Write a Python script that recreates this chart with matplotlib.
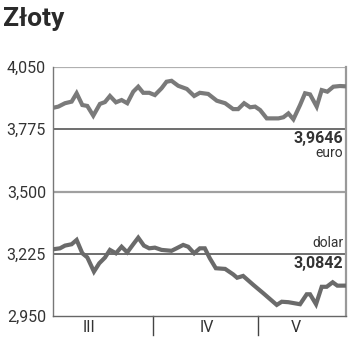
import matplotlib
matplotlib.use("Agg")
import matplotlib.pyplot as plt

plt.rcParams['font.family'] = ['Roboto', 'DejaVu Sans']

# x = days since 1 March
euro_x = [0.1, 1.6, 3.6, 5.6, 7.1, 8.8, 10.3, 12.1, 14.1, 15.6, 17.1, 18.9, 20.6, 22.3,
          24.1, 25.6, 27.1, 28.9, 30.6, 32.6, 34.1, 35.6, 37.6, 40.2, 42.4, 44.1, 46.6,
          49.2, 51.7, 54.1, 55.6, 57.4, 59.2, 60.7, 62.2, 64.2, 67.7, 69.2, 70.7, 72.2,
          74.2, 75.7, 77.2, 79.2, 80.7, 82.4, 84.2, 86.2, 88.0]
euro_v = [3.870, 3.875, 3.890, 3.897, 3.934, 3.882, 3.878, 3.835, 3.887, 3.895, 3.922,
          3.894, 3.904, 3.890, 3.941, 3.963, 3.936, 3.936, 3.926, 3.956, 3.985, 3.989,
          3.967, 3.953, 3.922, 3.936, 3.931, 3.901, 3.890, 3.864, 3.864, 3.890, 3.872,
          3.875, 3.860, 3.823, 3.823, 3.828, 3.845, 3.819, 3.882, 3.934, 3.929, 3.875,
          3.948, 3.941, 3.963, 3.966, 3.9646]

dollar_x = [0.1, 2.1, 3.6, 5.6, 7.1, 8.8, 10.3, 12.3, 13.9, 15.6, 17.1, 18.9, 20.6, 22.3,
            24.1, 25.6, 27.3, 28.9, 30.6, 32.6, 35.6, 37.1, 39.1, 40.6, 42.4, 44.1, 45.6,
            47.1, 48.9, 51.7, 54.1, 55.3, 57.1, 60.2, 63.2, 67.2, 68.7, 70.7, 74.2, 76.2,
            77.2, 79.0, 80.7, 82.2, 84.0, 85.4, 88.0]
dollar_v = [3.245, 3.249, 3.261, 3.267, 3.286, 3.227, 3.209, 3.146, 3.183, 3.208, 3.242,
            3.227, 3.256, 3.231, 3.267, 3.296, 3.261, 3.249, 3.252, 3.242, 3.238, 3.249,
            3.264, 3.256, 3.227, 3.249, 3.249, 3.205, 3.161, 3.158, 3.134, 3.119, 3.127,
            3.087, 3.050, 2.999, 3.013, 3.011, 3.002, 3.046, 3.046, 3.002, 3.079, 3.079,
            3.099, 3.084, 3.0842]

y_ticks = [2.950, 3.225, 3.500, 3.775, 4.050]
y_tick_labels = ["2,950", "3,225", "3,500", "3,775", "4,050"]
month_labels = ["III", "IV", "V"]
month_label_x = [10.8, 46.2, 72.8]
month_bounds = [30.0, 61.5]

fig = plt.figure(figsize=(3.5, 3.51), dpi=100)
ax = fig.add_axes([53/350, 1-316/351, 293/350, 249/351])
ax.set_xlim(0, 88)
ax.set_ylim(2.950, 4.050)

# gridlines
grid_colors = {2.950: None, 3.225: '#555555', 3.500: '#a0a0a0', 3.775: '#555555', 4.050: '#b0b0b0'}
for yv in y_ticks:
    c = grid_colors[yv]
    if c:
        ax.axhline(yv, color=c, lw=1.2 if c == '#555555' else 1.6, zorder=1)

ax.plot(euro_x, euro_v, color='#7a7a7a', lw=3.0, solid_joinstyle='miter', zorder=3)
ax.plot(dollar_x, dollar_v, color='#6a6a6a', lw=3.0, solid_joinstyle='miter', zorder=3)

ax.spines['top'].set_visible(False)
ax.spines['left'].set_color('#777777')
ax.spines['left'].set_linewidth(1.0)
ax.spines['bottom'].set_color('#666666')
ax.spines['bottom'].set_linewidth(1.0)
ax.spines['right'].set_color('#999999')
ax.spines['right'].set_linewidth(1.6)

ax.set_yticks(y_ticks)
ax.set_yticklabels(y_tick_labels, fontsize=11.5, color='#333333')
ax.tick_params(axis='y', length=0, pad=5)
ax.set_xticks([])

# month dividers below axis
for b in month_bounds:
    ax.plot([b, b], [0, -0.075], transform=ax.get_xaxis_transform(), color='#444444',
            lw=1.0, clip_on=False)
for lx, lab in zip(month_label_x, month_labels):
    ax.text(lx, -0.045, lab, transform=ax.get_xaxis_transform(), ha='center', va='center',
            fontsize=11.5, color='#333333')

# annotations
ax.text(87.1, 3.732, "3,9646", ha='right', va='center', fontsize=11.5,
        fontweight='bold', color='#333333')
ax.text(87.1, 3.670, "euro", ha='right', va='center', fontsize=10,
        color='#333333')
ax.text(87.1, 3.272, "dolar", ha='right', va='center', fontsize=10,
        color='#333333')
ax.text(87.1, 3.180, "3,0842", ha='right', va='center', fontsize=11.5,
        fontweight='bold', color='#333333')

fig.text(3/350, 1-19/351, "Złoty", ha='left', va='center', fontsize=19,
         fontweight='bold', color='#2a2a2a')

fig.savefig("out.png", dpi=100)
